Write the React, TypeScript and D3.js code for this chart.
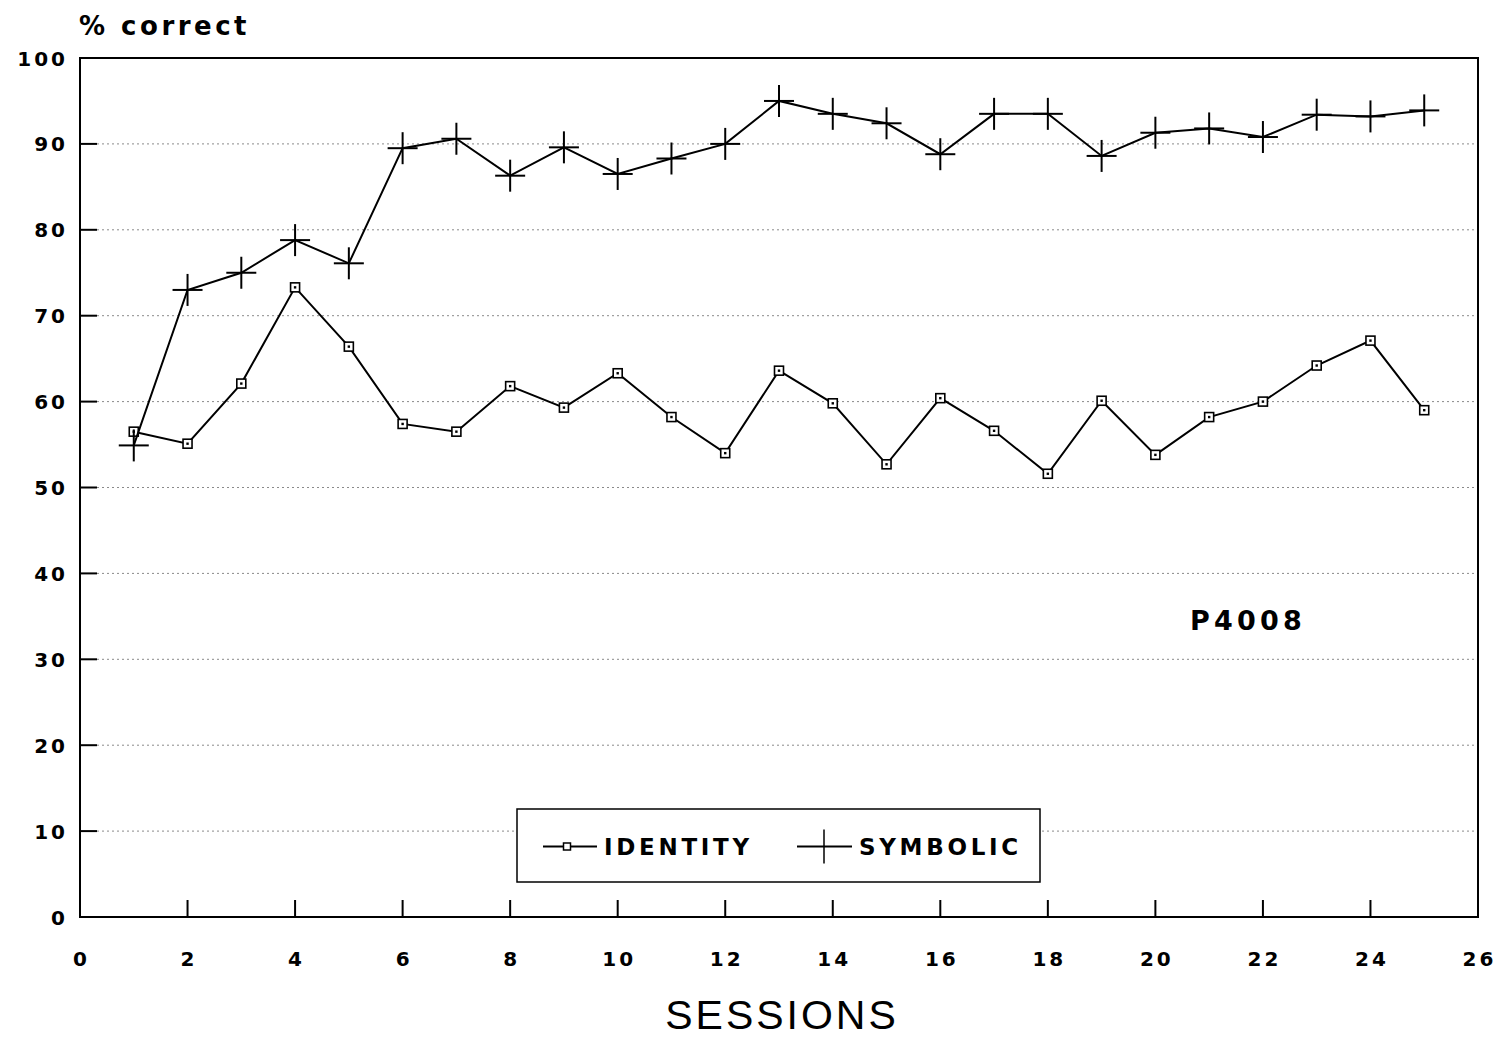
import React from "react";
import * as d3 from "d3";

// Sessions and percent-correct scores for participant P4008
const sessions = [1, 2, 3, 4, 5, 6, 7, 8, 9, 10, 11, 12, 13, 14, 15, 16, 17, 18, 19, 20, 21, 22, 23, 24, 25];
const identity = [56.5, 55.1, 62.1, 73.3, 66.4, 57.4, 56.5, 61.8, 59.3, 63.3, 58.2, 54.0, 63.6, 59.8, 52.7, 60.4, 56.6, 51.6, 60.1, 53.8, 58.2, 60.0, 64.2, 67.1, 59.0];
const symbolic = [54.9, 73.0, 75.0, 78.8, 76.1, 89.5, 90.6, 86.3, 89.6, 86.5, 88.3, 90.0, 95.0, 93.5, 92.4, 88.8, 93.5, 93.5, 88.6, 91.3, 91.8, 90.8, 93.4, 93.2, 93.9];
const xTicks = [0, 2, 4, 6, 8, 10, 12, 14, 16, 18, 20, 22, 24, 26];
const yTicks = [0, 10, 20, 30, 40, 50, 60, 70, 80, 90, 100];
const seriesNames = ["IDENTITY", "SYMBOLIC"];
const participant = "P4008";

const W = 1504;
const H = 1038;
const left = 80;
const right = 1478;
const top = 58;
const bottom = 917;

const WIDE = "'DejaVu Sans', Verdana, sans-serif";
const PLAIN = "'Liberation Sans', Arial, Helvetica, sans-serif";

export default function App() {
  const x = d3.scaleLinear().domain([0, 26]).range([left, right]);
  const y = d3.scaleLinear().domain([0, 100]).range([bottom, top]);

  const line = d3
    .line<number>()
    .x((_, i) => x(sessions[i]))
    .y((d) => y(d));

  const tickLen = 17;
  const crossH = 15;
  const crossV = 16;
  const sq = 4.5;

  const legend = { x: 517, y: 809, w: 523, h: 73 };
  const legendMid = legend.y + legend.h / 2;

  const tickSpacing = 3;

  return (
    <svg
      width={W}
      height={H}
      viewBox={`0 0 ${W} ${H}`}
      style={{ position: "absolute", left: 0, top: 0, background: "#fff" }}
      fontFamily={WIDE}
    >
      <rect x={0} y={0} width={W} height={H} fill="#fff" />

      {/* dotted horizontal gridlines */}
      {yTicks
        .filter((t) => t > 0 && t < 100)
        .map((t) => (
          <line
            key={`g${t}`}
            x1={left + tickLen}
            x2={right}
            y1={y(t)}
            y2={y(t)}
            stroke="#8a8a8a"
            strokeWidth={1}
            strokeDasharray="2 3"
          />
        ))}

      {/* y ticks */}
      {yTicks
        .filter((t) => t > 0 && t < 100)
        .map((t) => (
          <line key={`yt${t}`} x1={left} x2={left + tickLen} y1={y(t)} y2={y(t)} stroke="#000" strokeWidth={2} />
        ))}

      {/* x ticks */}
      {xTicks
        .filter((t) => t > 0 && t < 26)
        .map((t) => (
          <line key={`xt${t}`} x1={x(t)} x2={x(t)} y1={bottom} y2={bottom - tickLen} stroke="#000" strokeWidth={2} />
        ))}

      {/* frame */}
      <rect x={left} y={top} width={right - left} height={bottom - top} fill="none" stroke="#000" strokeWidth={2} />

      {/* y tick labels */}
      {yTicks.map((t) => (
        <text
          key={`yl${t}`}
          x={65 + tickSpacing}
          y={y(t) + 7.5}
          textAnchor="end"
          fontSize={20}
          fontWeight="bold"
          letterSpacing={tickSpacing}
          fill="#000"
        >
          {t}
        </text>
      ))}

      {/* x tick labels */}
      {xTicks.map((t) => (
        <text
          key={`xl${t}`}
          x={x(t) + tickSpacing / 2}
          y={966}
          textAnchor="middle"
          fontSize={20}
          fontWeight="bold"
          letterSpacing={tickSpacing}
          fill="#000"
        >
          {t}
        </text>
      ))}

      {/* axis titles */}
      <text x={79} y={35} fontSize={26} fontWeight="bold" letterSpacing={3.5} fill="#000">
        % correct
      </text>
      <text x={782} y={1029} textAnchor="middle" fontFamily={PLAIN} fontSize={41} letterSpacing={3} fill="#000">
        SESSIONS
      </text>

      {/* participant label */}
      <text x={1190} y={630} fontSize={27} fontWeight="bold" letterSpacing={4.2} fill="#000">
        {participant}
      </text>

      {/* identity series */}
      <path d={line(identity) ?? ""} fill="none" stroke="#000" strokeWidth={2} />
      {identity.map((v, i) => (
        <g key={`id${i}`}>
          <rect
            x={x(sessions[i]) - sq}
            y={y(v) - sq}
            width={sq * 2}
            height={sq * 2}
            fill="#fff"
            stroke="#000"
            strokeWidth={1.6}
          />
          <rect x={x(sessions[i]) - 1.2} y={y(v) - 1.2} width={2.4} height={2.4} fill="#000" />
        </g>
      ))}

      {/* symbolic series */}
      <path d={line(symbolic) ?? ""} fill="none" stroke="#000" strokeWidth={2} />
      {symbolic.map((v, i) => (
        <g key={`sy${i}`} stroke="#000" strokeWidth={2}>
          <line x1={x(sessions[i]) - crossH} x2={x(sessions[i]) + crossH} y1={y(v)} y2={y(v)} />
          <line x1={x(sessions[i])} x2={x(sessions[i])} y1={y(v) - crossV} y2={y(v) + crossV} />
        </g>
      ))}

      {/* legend */}
      <rect
        x={legend.x}
        y={legend.y}
        width={legend.w}
        height={legend.h}
        fill="#fff"
        stroke="#000"
        strokeWidth={1.5}
      />
      <line x1={543} x2={597} y1={legendMid + 1} y2={legendMid + 1} stroke="#000" strokeWidth={2} />
      <rect x={567 - 3.5} y={legendMid + 1 - 3.5} width={7} height={7} fill="#fff" stroke="#000" strokeWidth={1.5} />
      <text x={604} y={legendMid + 9} fontSize={23} fontWeight="bold" letterSpacing={3.7} fill="#000">
        {seriesNames[0]}
      </text>
      <line x1={797} x2={852} y1={legendMid + 1} y2={legendMid + 1} stroke="#000" strokeWidth={2} />
      <line x1={824} x2={824} y1={legendMid - 16} y2={legendMid + 18} stroke="#000" strokeWidth={1.5} />
      <text x={859} y={legendMid + 9} fontSize={23} fontWeight="bold" letterSpacing={3.7} fill="#000">
        {seriesNames[1]}
      </text>
    </svg>
  );
}
